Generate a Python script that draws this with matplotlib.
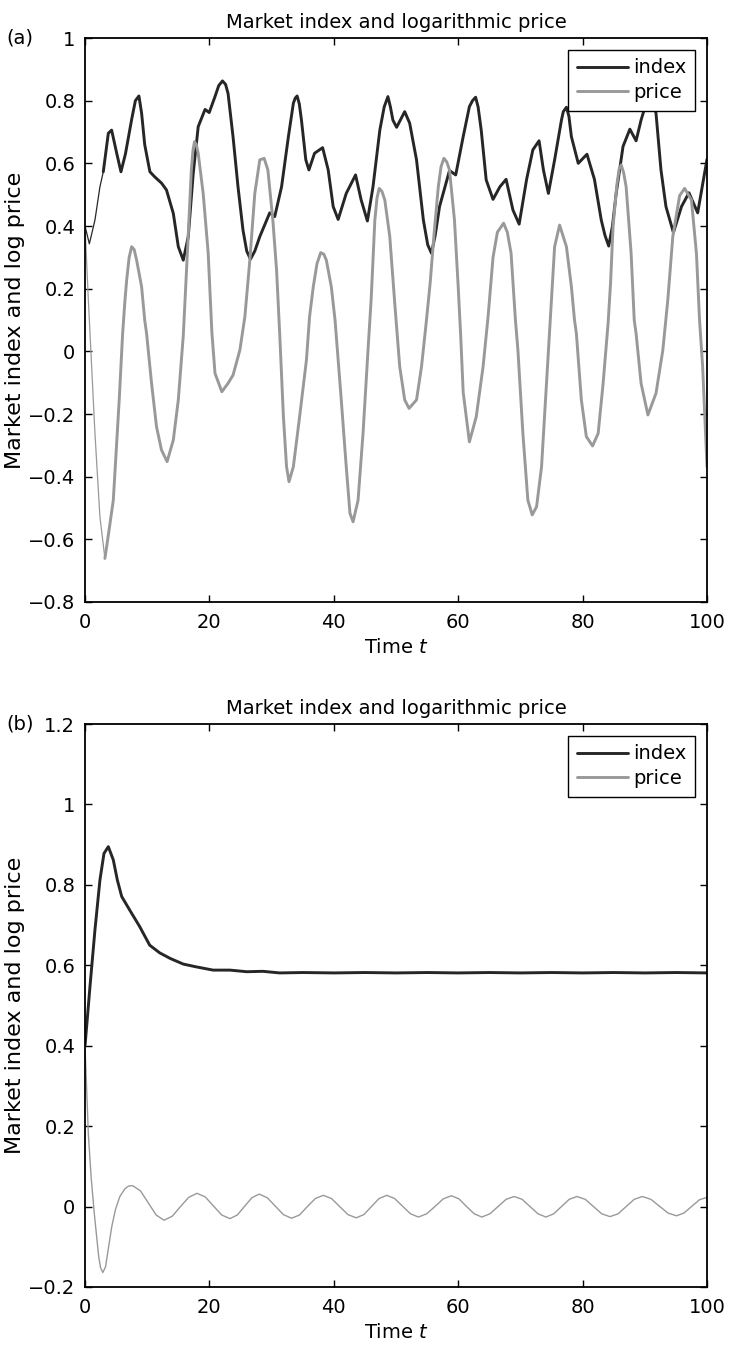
"""Market index and logarithmic price: two stacked panels."""

import matplotlib
matplotlib.use("Agg")
import matplotlib.pyplot as plt
from matplotlib.ticker import FuncFormatter
import numpy as np

plt.rcParams['font.family'] = ['DejaVu Sans']
plt.rcParams['mathtext.fontset'] = 'dejavusans'

# ---- panel (a): oscillating market ----
a_index_t = [0, 0.7, 1.6, 2.4, 2.94, 3.75, 4.28, 5.1, 5.78, 6.5, 7.5, 8.1, 8.67, 9.1, 9.6,
             10.2, 10.44, 11.2, 12.3, 13.1, 14.2, 15.0, 15.8, 16.6, 17.4, 18.2, 19.3, 19.97,
             20.9, 21.5, 22.1, 22.6, 23.0, 23.8, 24.6, 25.4, 26.0, 26.6, 27.3, 28.1, 29.7,
             30.5, 31.6, 32.7, 33.5, 33.8, 34.1, 34.45, 34.8, 35.5, 36.0, 36.9, 38.2, 39.1,
             39.9, 40.7, 42.0, 43.5, 44.4, 45.4, 46.3, 47.4, 48.1, 48.7, 49.1, 49.5, 50.1,
             51.4, 52.2, 53.3, 54.4, 55.1, 55.7, 56.3, 57.0, 58.6, 59.6, 60.8, 61.8, 62.3,
             62.8, 63.2, 63.7, 64.5, 65.6, 66.7, 67.7, 68.8, 69.8, 71.0, 72.0, 73.0, 73.7,
             74.5, 75.5, 76.6, 76.9, 77.4, 77.8, 78.2, 79.3, 80.7, 81.9, 83.0, 83.6, 84.2,
             84.8, 85.4, 86.5, 87.6, 88.6, 89.4, 90.8, 91.8, 92.6, 93.4, 94.6, 95.9, 97.1,
             98.5, 100]
a_index_v = [0.40, 0.343, 0.419, 0.525, 0.573, 0.696, 0.706, 0.632, 0.573, 0.63, 0.74, 0.80,
             0.815, 0.76, 0.66, 0.597, 0.573, 0.557, 0.537, 0.515, 0.440, 0.334, 0.291,
             0.366, 0.568, 0.717, 0.772, 0.762, 0.813, 0.848, 0.863, 0.852, 0.823, 0.685,
             0.525, 0.387, 0.32, 0.294, 0.32, 0.366, 0.442, 0.430, 0.525, 0.685, 0.792,
             0.808, 0.815, 0.79, 0.738, 0.611, 0.579, 0.632, 0.650, 0.579, 0.462, 0.421,
             0.504, 0.563, 0.483, 0.416, 0.525, 0.706, 0.78, 0.813, 0.78, 0.738, 0.715,
             0.765, 0.728, 0.611, 0.419, 0.34, 0.313, 0.37, 0.462, 0.577, 0.563, 0.685,
             0.781, 0.80, 0.811, 0.78, 0.706, 0.547, 0.485, 0.525, 0.549, 0.451, 0.406,
             0.549, 0.643, 0.672, 0.579, 0.504, 0.611, 0.738, 0.765, 0.779, 0.75, 0.685,
             0.600, 0.629, 0.549, 0.419, 0.37, 0.336, 0.40, 0.504, 0.654, 0.709, 0.672,
             0.738, 0.83, 0.760, 0.579, 0.462, 0.379, 0.462, 0.506, 0.442, 0.613]

a_price_t = [0, 0.54, 1.6, 2.4, 3.2, 3.8, 4.55, 5.5, 6.05, 6.43, 6.7, 7.1, 7.5, 7.9, 8.3,
             9.1, 9.6, 9.9, 10.7, 11.5, 12.3, 13.2, 14.2, 15.0, 15.8, 16.5, 17.1, 17.35,
             17.6, 17.9, 18.2, 19.0, 19.8, 20.4, 20.9, 22.0, 23.0, 23.8, 24.9, 25.7, 26.5,
             27.3, 28.1, 28.8, 29.4, 30.2, 30.8, 31.3, 31.9, 32.4, 32.8, 33.5, 34.5, 35.6,
             36.1, 36.7, 37.3, 37.9, 38.4, 38.8, 39.6, 40.2, 41.2, 42.0, 42.6, 43.1, 43.9,
             44.7, 45.5, 46.0, 46.6, 46.95, 47.3, 47.75, 48.2, 49.0, 49.8, 50.6, 51.4, 52.1,
             53.3, 54.1, 54.9, 55.5, 56.1, 56.8, 57.25, 57.7, 58.15, 58.6, 59.4, 60.0, 60.4,
             60.8, 61.8, 62.9, 64.0, 64.8, 65.6, 66.3, 67.3, 67.9, 68.5, 69.2, 69.6, 70.4,
             71.2, 71.9, 72.6, 73.4, 74.2, 75.0, 75.5, 76.3, 77.4, 78.2, 78.7, 79.0, 79.8,
             80.6, 81.6, 82.5, 83.3, 84.1, 84.5, 84.9, 85.5, 85.85, 86.2, 86.6, 87.0, 87.8,
             88.3, 88.6, 89.4, 90.5, 91.8, 92.9, 93.7, 94.5, 95.6, 96.4, 97.5, 98.3, 98.8,
             99.3, 100]
a_price_v = [0.40, 0.164, -0.262, -0.528, -0.661, -0.58, -0.475, -0.155, 0.057, 0.164, 0.228,
             0.30, 0.334, 0.325, 0.291, 0.206, 0.10, 0.057, -0.102, -0.241, -0.315, -0.352,
             -0.283, -0.155, 0.05, 0.33, 0.58, 0.64, 0.669, 0.66, 0.632, 0.504, 0.315, 0.06,
             -0.07, -0.129, -0.102, -0.076, 0.004, 0.110, 0.291, 0.504, 0.611, 0.616, 0.579,
             0.419, 0.259, 0.057, -0.209, -0.368, -0.416, -0.368, -0.209, -0.028, 0.110,
             0.206, 0.28, 0.315, 0.31, 0.291, 0.206, 0.10, -0.155, -0.368, -0.517, -0.544,
             -0.475, -0.262, 0.004, 0.164, 0.419, 0.49, 0.520, 0.51, 0.483, 0.366, 0.153,
             -0.049, -0.155, -0.182, -0.155, -0.049, 0.10, 0.22, 0.37, 0.525, 0.59, 0.616,
             0.605, 0.579, 0.419, 0.206, 0.05, -0.13, -0.289, -0.209, -0.049, 0.110, 0.30,
             0.38, 0.409, 0.38, 0.313, 0.10, 0.004, -0.262, -0.475, -0.522, -0.496, -0.368,
             -0.102, 0.164, 0.334, 0.403, 0.334, 0.206, 0.10, 0.057, -0.155, -0.272, -0.302,
             -0.262, -0.102, 0.09, 0.22, 0.40, 0.53, 0.58, 0.595, 0.57, 0.525, 0.313, 0.10,
             0.057, -0.102, -0.203, -0.134, 0.004, 0.164, 0.366, 0.497, 0.520, 0.483, 0.313,
             0.10, -0.049, -0.368]

# ---- panel (b): damped market ----
b_index_t = [0, 0.8, 1.6, 2.4, 3.05, 3.75, 4.55, 5.2, 5.9, 7.2, 8.8, 10.4, 12.0, 13.7, 15.8,
             17.9, 20.6, 23.3, 26.0, 28.6, 31.3, 35, 40, 45, 50, 55, 60, 65, 70, 75, 80, 85,
             90, 95, 100]
b_index_v = [0.399, 0.547, 0.688, 0.812, 0.878, 0.895, 0.862, 0.812, 0.771, 0.737, 0.696,
             0.650, 0.631, 0.617, 0.603, 0.596, 0.588, 0.588, 0.584, 0.585, 0.581, 0.582,
             0.581, 0.582, 0.581, 0.582, 0.581, 0.582, 0.581, 0.582, 0.581, 0.582, 0.581,
             0.582, 0.581]

b_price_t = [0, 0.54, 1.0, 1.53, 2.2, 2.5, 2.86, 3.3, 3.8, 4.3, 4.9, 5.6, 6.4, 7.0, 7.66,
             8.92, 10.18, 11.44, 12.7, 14.03, 15.35, 16.68, 18.0, 19.33, 20.65, 21.98, 23.3,
             24.48, 25.65, 26.83, 28.0, 29.3, 30.6, 31.9, 33.2, 34.48, 35.75, 37.03, 38.3,
             39.63, 40.95, 42.28, 43.6, 44.83, 46.05, 47.28, 48.5, 49.78, 51.05, 52.33, 53.6,
             54.93, 56.25, 57.58, 58.9, 60.13, 61.35, 62.58, 63.8, 65.1, 66.4, 67.7, 69.0,
             70.28, 71.55, 72.83, 74.1, 75.35, 76.6, 77.85, 79.1, 80.43, 81.75, 83.08, 84.4,
             85.7, 87.0, 88.3, 89.6, 90.98, 92.35, 93.73, 95.1, 96.3, 97.5, 98.8, 100]
b_price_v = [0.40, 0.18, 0.07, -0.023, -0.124, -0.152, -0.164, -0.15, -0.10, -0.05, -0.007,
             0.025, 0.044, 0.051, 0.052, 0.039, 0.009, -0.021, -0.034, -0.024, 0.0, 0.023,
             0.033, 0.024, 0.0015, -0.021, -0.030, -0.021, 0.0005, 0.022, 0.031, 0.022,
             0.001, -0.020, -0.029, -0.021, 0.0, 0.020, 0.028, 0.020, 0.0, -0.020, -0.028,
             -0.020, 0.0, 0.020, 0.028, 0.020, 0.001, -0.018, -0.026, -0.018, 0.0, 0.019,
             0.027, 0.019, 0.0, -0.018, -0.026, -0.018, 0.0, 0.018, 0.025, 0.018, 0.0,
             -0.018, -0.026, -0.018, 0.0, 0.018, 0.025, 0.018, 0.0, -0.018, -0.025, -0.018,
             0.0, 0.018, 0.025, 0.018, 0.001, -0.016, -0.023, -0.016, 0.0, 0.017, 0.023]

DARK = '#262626'
GRAY = '#999999'
TITLE = 'Market index and logarithmic price'
FS = 14


def num_fmt(v, pos):
    s = f"{v:.1f}".rstrip('0').rstrip('.')
    if s in ('-0', '0'):
        return '0'
    return s.replace('-', '\u2212')


def style_axes(ax, ylim, yticks):
    ax.set_xlim(0, 100)
    ax.set_ylim(*ylim)
    ax.set_xticks([0, 20, 40, 60, 80, 100])
    ax.set_yticks(yticks)
    ax.yaxis.set_major_formatter(FuncFormatter(num_fmt))
    ax.tick_params(direction='in', top=True, right=True, length=5, width=1,
                   labelsize=FS, pad=7)
    ax.tick_params(axis='x', pad=8)
    for sp in ax.spines.values():
        sp.set_linewidth(1.3)
    ax.set_title(TITLE, fontsize=FS, pad=7)
    ax.set_xlabel('Time $\\mathit{t}$', fontsize=FS, labelpad=4)
    ax.set_ylabel('Market index and log price', fontsize=16)
    ax.yaxis.set_label_coords(-60 / 622, 0.5)
    leg = ax.legend(loc='upper right', fontsize=FS, fancybox=False, framealpha=1,
                    edgecolor='black', borderaxespad=0.6, handlelength=2.6,
                    handletextpad=0.3, borderpad=0.45, labelspacing=0.3)
    leg.get_frame().set_linewidth(1.0)


fig = plt.figure(figsize=(7.31, 13.45), dpi=100)
ax1 = fig.add_axes([85 / 731, 1 - 602 / 1345, 622 / 731, 564 / 1345])
ax2 = fig.add_axes([85 / 731, 1 - 1287 / 1345, 622 / 731, 563 / 1345])

# panel (a): first few time units drawn thin, the rest thick
ai_t = np.array(a_index_t)
ai_v = np.array(a_index_v)
ap_t = np.array(a_price_t)
ap_v = np.array(a_price_v)
k_i = int(np.searchsorted(ai_t, 2.94)) + 1
k_p = int(np.searchsorted(ap_t, 3.2)) + 1
kw = dict(solid_joinstyle='round', solid_capstyle='round')
ax1.plot(ai_t[:k_i], ai_v[:k_i], color=DARK, lw=0.9, **kw)
ax1.plot(ap_t[:k_p], ap_v[:k_p], color=GRAY, lw=0.9, **kw)
ax1.plot(ai_t[k_i - 1:], ai_v[k_i - 1:], color=DARK, lw=2.1, label='index', **kw)
ax1.plot(ap_t[k_p - 1:], ap_v[k_p - 1:], color=GRAY, lw=2.1, label='price', **kw)
style_axes(ax1, (-0.8, 1.0), np.arange(-0.8, 1.01, 0.2))

# panel (b)
ax2.plot(b_index_t, b_index_v, color=DARK, lw=2.1, label='index', **kw)
ax2.plot(b_price_t, b_price_v, color=GRAY, lw=1.0, label='price', **kw)
style_axes(ax2, (-0.2, 1.2), np.arange(-0.2, 1.21, 0.2))
# legend for (b) shows thick lines like the original
for line in ax2.get_legend().get_lines():
    line.set_linewidth(2.1)

fig.text(6 / 731, 1 - 38 / 1345, '(a)', fontsize=FS, va='center', ha='left')
fig.text(6 / 731, 1 - 724 / 1345, '(b)', fontsize=FS, va='center', ha='left')

fig.savefig('out.png', dpi=100)
plt.close(fig)
